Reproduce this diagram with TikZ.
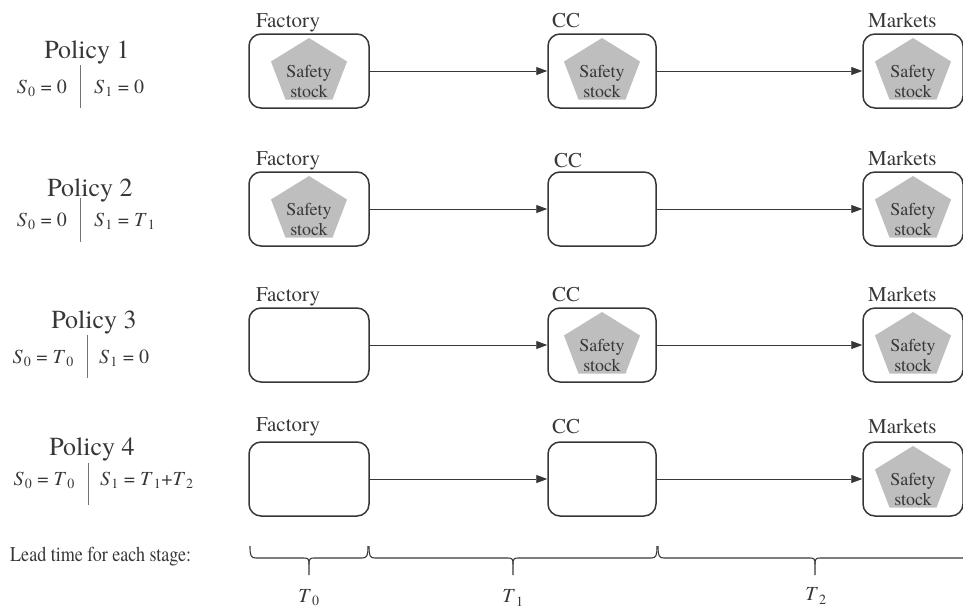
\documentclass[tikz,border=0pt]{standalone}
\usepackage{fontspec}
\setmainfont{texgyretermes}[Extension=.otf, UprightFont=*-regular, ItalicFont=*-italic, BoldFont=*-bold, BoldItalicFont=*-bolditalic]
\usetikzlibrary{arrows.meta}
\definecolor{ink}{RGB}{55,55,55}
\definecolor{stockgray}{RGB}{190,190,190}
\newcommand\sym[2]{\textit{#1}\kern0.05em\textsubscript{#2}}
\tikzset{
  stagebox/.style={draw=ink, line width=1.5pt, rounded corners=12pt, minimum height=74pt, inner sep=0pt},
  stagelabel/.style={anchor=base west, inner sep=0pt, text=ink, font=\rmfamily\fontsize{21}{24}\selectfont},
  policytitle/.style={anchor=base, inner sep=0pt, text=ink, font=\rmfamily\fontsize{26}{30}\selectfont},
  formula/.style={inner sep=0pt, text=ink, font=\rmfamily\fontsize{20}{22}\selectfont},
  sepbar/.style={draw=ink!70, line width=0.7pt},
  flow/.style={draw=ink, line width=0.9pt, -{Triangle[length=11pt,width=8pt]}},
  stocktext/.style={align=center, inner sep=0pt, text=ink, font=\rmfamily\fontsize{18}{20}\selectfont},
  bracestyle/.style={draw=ink, line width=1.1pt},
  pics/safety/.style={code={
    \fill[stockgray] (-90:40 and 34) -- (-18:40 and 34) -- (54:40 and 34) -- (126:40 and 34) -- (198:40 and 34) -- cycle;
    \node[stocktext] (-t) at (0,9) {Safety\\stock};
  }}
}
\begin{document}
\begin{tikzpicture}[x=1pt,y=-1pt]
\useasboundingbox (0,0) rectangle (963,608);
\clip (0,0) rectangle (963,608);

% ---------- Row 1 (top 34) ----------
\node[stagebox, minimum width=120pt] (f1) at (309,71) {};
\node[stagebox, minimum width=108pt] (c1) at (602,71) {};
\node[stagebox, minimum width=100pt] (m1) at (913,71) {};
\node[stagelabel] (lf1) at (256,27) {Factory};
\node[stagelabel] (lc1) at (552,27) {CC};
\node[stagelabel] (lm1) at (868,27) {Markets};
\pic (s1f) at (309,72) {safety};
\pic (s1c) at (602,72) {safety};
\pic (s1m) at (913,72) {safety};
\draw[flow] (f1.east) -- (c1.west);
\draw[flow] (c1.east) -- (m1.west);
\node[policytitle] (p1) at (87,58) {Policy 1};
\node[formula, anchor=base east] (p1a) at (67,93) {\sym{S}{0} = 0};
\node[formula, anchor=base west] (p1b) at (94,93) {\sym{S}{1} = 0};
\draw[sepbar] (80,65) -- (80,108);

% ---------- Row 2 (top 172) ----------
\node[stagebox, minimum width=120pt] (f2) at (309,209) {};
\node[stagebox, minimum width=108pt] (c2) at (602,209) {};
\node[stagebox, minimum width=100pt] (m2) at (913,209) {};
\node[stagelabel] (lf2) at (256,165) {Factory};
\node[stagelabel] (lc2) at (554,167) {CC};
\node[stagelabel] (lm2) at (868,165) {Markets};
\pic (s2f) at (309,210) {safety};
\pic (s2m) at (913,210) {safety};
\draw[flow] (f2.east) -- (c2.west);
\draw[flow] (c2.east) -- (m2.west);
\node[policytitle] (p2) at (90,196) {Policy 2};
\node[formula, anchor=base east] (p2a) at (67,226) {\sym{S}{0} = 0};
\node[formula, anchor=base west] (p2b) at (94,226) {\sym{S}{1} = \sym{T}{1}};
\draw[sepbar] (80,198) -- (80,242);

% ---------- Row 3 (top 308) ----------
\node[stagebox, minimum width=120pt] (f3) at (309,345) {};
\node[stagebox, minimum width=108pt] (c3) at (602,345) {};
\node[stagebox, minimum width=100pt] (m3) at (913,345) {};
\node[stagelabel] (lf3) at (256,301) {Factory};
\node[stagelabel] (lc3) at (552,301) {CC};
\node[stagelabel] (lm3) at (868,301) {Markets};
\pic (s3c) at (602,346) {safety};
\pic (s3m) at (913,346) {safety};
\draw[flow] (f3.east) -- (c3.west);
\draw[flow] (c3.east) -- (m3.west);
\node[policytitle] (p3) at (94,328) {Policy 3};
\node[formula, anchor=base east] (p3a) at (74,363) {\sym{S}{0} = \sym{T}{0}};
\node[formula, anchor=base west] (p3b) at (99,363) {\sym{S}{1} = 0};
\draw[sepbar] (87,335) -- (87,378);

% ---------- Row 4 (top 442) ----------
\node[stagebox, minimum width=120pt] (f4) at (309,479) {};
\node[stagebox, minimum width=108pt] (c4) at (602,479) {};
\node[stagebox, minimum width=100pt] (m4) at (913,479) {};
\node[stagelabel] (lf4) at (256,431) {Factory};
\node[stagelabel] (lc4) at (552,433) {CC};
\node[stagelabel] (lm4) at (868,433) {Markets};
\pic (s4m) at (913,480) {safety};
\draw[flow] (f4.east) -- (c4.west);
\draw[flow] (c4.east) -- (m4.west);
\node[policytitle] (p4) at (92,455) {Policy 4};
\node[formula, anchor=base east] (p4a) at (75,485) {\sym{S}{0} = \sym{T}{0}};
\node[formula, anchor=base west] (p4b) at (100,485) {\sym{S}{1} = \sym{T}{1}+\sym{T}{2}};
\draw[sepbar] (88,463) -- (88,505);

% ---------- Lead times ----------
\node[anchor=west, inner sep=0pt, text=ink, font=\rmfamily\fontsize{21}{24}\selectfont] (lead) at (10,557) {\scalebox{0.86}[1]{Lead time for each stage:}};

\draw[bracestyle] (250,546) .. controls (250,556) and (251,558) .. (256,558) -- (304,558) .. controls (308,558) and (309,559) .. (309,564) -- (309,575);
\draw[bracestyle] (309,564) .. controls (309,559) and (310,558) .. (314,558) -- (362,558) .. controls (367,558) and (368,556) .. (368,546);
\draw[bracestyle] (369,546) .. controls (369,556) and (370,558) .. (375,558) -- (508,558) .. controls (512,558) and (513,559) .. (513,564) -- (513,575);
\draw[bracestyle] (513,564) .. controls (513,559) and (514,558) .. (518,558) -- (651,558) .. controls (656,558) and (657,556) .. (657,546);
\draw[bracestyle] (658,546) .. controls (658,556) and (659,558) .. (664,558) -- (810,558) .. controls (814,558) and (815,559) .. (815,564) -- (815,575);
\draw[bracestyle] (815,564) .. controls (815,559) and (816,558) .. (820,558) -- (975,558);

\node[formula] (t0) at (309,598) {\sym{T}{0}};
\node[formula] (t1) at (513,598) {\sym{T}{1}};
\node[formula] (t2) at (816,596) {\sym{T}{2}};
\end{tikzpicture}
\end{document}
